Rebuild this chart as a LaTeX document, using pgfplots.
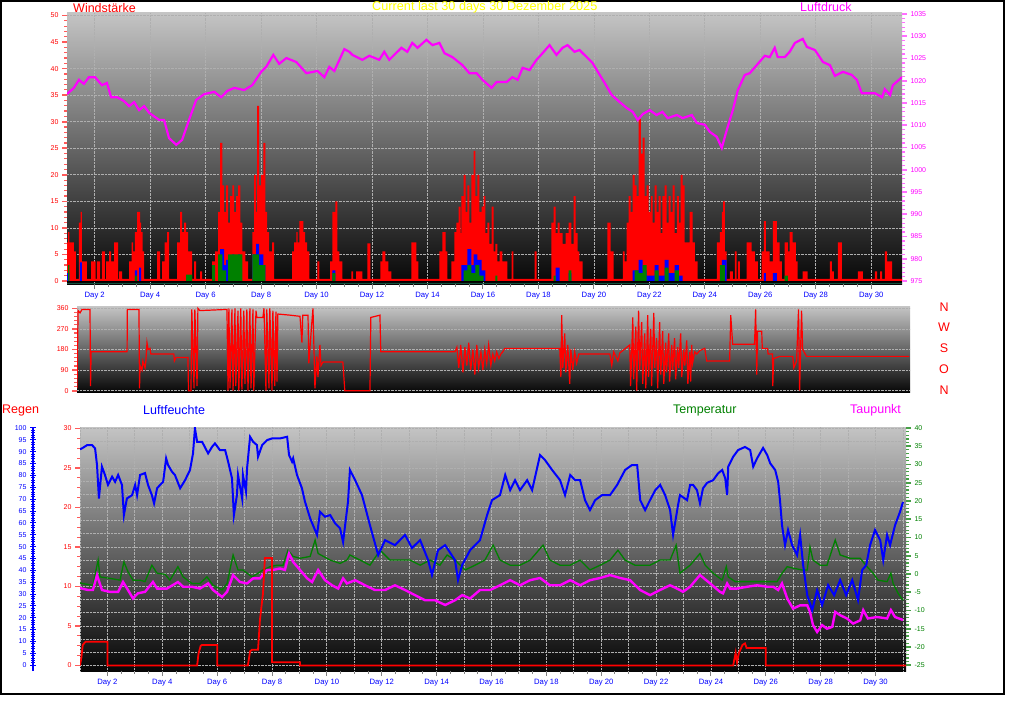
\documentclass[border=0pt]{standalone}
\usepackage{fontspec}
\setmainfont{Liberation Sans}
\usepackage{pgfplots}
\pgfplotsset{compat=1.18}
\definecolor{mag}{RGB}{255,0,255}
\definecolor{myred}{RGB}{255,0,0}
\definecolor{myblue}{RGB}{0,0,255}
\definecolor{mygreen}{RGB}{0,128,0}
\definecolor{myyellow}{RGB}{255,255,0}
\definecolor{bgtop}{RGB}{196,196,196}
\definecolor{bgmid}{RGB}{95,95,95}
\definecolor{bgbot}{RGB}{6,6,6}
\definecolor{gridc}{RGB}{175,175,175}
\definecolor{tickred}{RGB}{255,90,90}
\definecolor{tickmag}{RGB}{255,110,255}
\definecolor{tickgreen}{RGB}{70,160,70}
\definecolor{teal2}{RGB}{20,80,60}
\pgfplotsset{
 base/.style={scale only axis, xmin=1, xmax=31.11, anchor=south west,
   axis line style={draw=none},
   /pgf/number format/assume math mode=true, /pgf/number format/1000 sep={},
   tick label style={font=\fontsize{7}{8}\selectfont},
   tick align=outside, major tick length=5pt, minor tick length=3pt,
   major tick style={line width=1.6pt}, minor tick style={line width=1.2pt}},
 shadebg/.style={axis background/.style={top color=bgtop, middle color=bgmid, bottom color=bgbot}},
 grd/.style={grid style={densely dotted, line width=0.8pt, color=gridc}},
}
\begin{document}
\begin{tikzpicture}
\path[use as bounding box] (0pt,0pt) rectangle (1024pt,705pt);
\draw[line width=2pt] (1pt,703.5pt) rectangle (1004pt,11pt);

% ---------------- top panel: wind ----------------
\begin{axis}[base, shadebg, grd, at={(67pt,421pt)}, width=835pt, height=271pt,
  ymin=-0.56, ymax=50.47, ytick={0,5,...,50}, minor y tick num=4,
  xtick={2,4,...,30}, minor x tick num=3,
  xticklabels={Day 2,Day 4,Day 6,Day 8,Day 10,Day 12,Day 14,Day 16,Day 18,Day 20,Day 22,Day 24,Day 26,Day 28,Day 30},
  xmajorgrids, ymajorgrids, tick pos=left,
  yticklabel style={text=myred},
  xticklabel style={text=myblue, font=\fontsize{7.7}{9}\selectfont},
  y tick style={color=tickred}, x tick style={color=gray, line width=1pt}]
\addplot[const plot, fill=myred, draw=none] coordinates {(1.00,7.3)(1.04,9.2)(1.09,7.3)(1.25,5.6)(1.32,0.4)(1.43,11)(1.49,13)(1.54,3.7)(1.72,0.4)(1.87,3.7)(2.03,0.4)(2.08,3.7)(2.19,0.4)(2.26,5.6)(2.37,0.4)(2.41,3.7)(2.52,5.6)(2.59,3.7)(2.70,7.3)(2.84,0.4)(2.88,1.8)(2.99,0.4)(3.24,3.7)(3.33,7.3)(3.38,5.6)(3.45,9.2)(3.53,13)(3.64,11)(3.67,9.2)(3.73,5.6)(3.78,0.4)(4.25,5.6)(4.36,0.4)(4.43,3.7)(4.52,7.3)(4.61,9.2)(4.68,0.4)(4.97,7.3)(5.08,13)(5.15,9.2)(5.22,11)(5.30,9.2)(5.37,5.6)(5.51,0.4)(5.58,3.7)(5.66,0.4)(5.80,1.8)(5.87,0.4)(6.23,3.7)(6.34,5.6)(6.45,13)(6.52,26)(6.60,18)(6.67,13)(6.74,18)(6.81,11)(6.88,16)(6.96,18)(7.03,13)(7.10,16)(7.17,18)(7.25,11)(7.32,5.6)(7.43,3.7)(7.53,0.4)(7.68,9.2)(7.75,20)(7.82,13)(7.86,33)(7.93,18)(8.00,20)(8.08,26)(8.15,13)(8.22,9.2)(8.29,5.6)(8.40,7.3)(8.47,0.4)(9.12,5.6)(9.19,7.3)(9.27,9.2)(9.32,7.3)(9.38,11.3)(9.52,9.2)(9.59,7.3)(9.66,5.6)(9.74,0.4)(10.03,3.7)(10.10,0.4)(10.49,3.7)(10.57,13)(10.68,15)(10.75,5.6)(10.82,3.7)(10.93,0.4)(11.25,1.8)(11.32,0.4)(11.43,1.8)(11.65,0.4)(11.83,7.1)(11.94,0.4)(12.30,3.7)(12.37,5.6)(12.48,3.7)(12.59,1.8)(12.70,0.4)(13.42,7.3)(13.60,3.7)(13.67,0.4)(14.43,5.6)(14.54,9.2)(14.65,5.6)(14.72,0.4)(14.86,3.7)(14.97,9.2)(15.04,11)(15.12,14)(15.19,9)(15.22,16)(15.30,20)(15.37,13)(15.44,18)(15.51,11)(15.58,20)(15.66,24.5)(15.73,16)(15.80,20)(15.87,13)(15.95,14)(16.02,16)(16.09,9)(16.16,11)(16.23,7)(16.31,14)(16.38,5.6)(16.45,7)(16.52,3.7)(16.60,5.6)(16.70,3.7)(16.88,0.4)(17.03,5.6)(17.10,0.4)(17.86,5.6)(17.93,0.4)(18.47,11)(18.55,14)(18.62,9)(18.69,11)(18.76,9)(18.87,7)(18.98,9)(19.09,11)(19.19,7)(19.27,16)(19.34,9)(19.41,5.6)(19.48,3.7)(19.59,0.4)(20.49,11)(20.60,5.6)(20.71,0.4)(21.04,5.6)(21.11,3.7)(21.18,11)(21.25,16)(21.32,13)(21.40,20)(21.47,18)(21.54,16)(21.61,30.5)(21.69,24)(21.76,27)(21.83,16)(21.90,18)(21.97,13)(22.05,16)(22.12,11)(22.19,18)(22.26,13)(22.33,16)(22.41,9)(22.47,16)(22.55,18)(22.62,11)(22.69,16)(22.77,13)(22.84,18)(22.91,9)(22.99,16)(23.06,11)(23.13,20)(23.20,18)(23.27,7.3)(23.45,13)(23.56,7.3)(23.64,3.7)(23.74,0.4)(24.43,7.3)(24.54,9.2)(24.61,13)(24.66,15)(24.72,5.6)(24.79,0.4)(24.90,1.8)(25.01,0.4)(25.08,5.6)(25.15,0.4)(25.19,3.7)(25.26,0.4)(25.51,7.3)(25.69,5.6)(25.80,3.7)(25.91,0.4)(26.05,5.6)(26.13,11.3)(26.20,5.6)(26.34,3.7)(26.45,11.3)(26.60,7.3)(26.70,3.7)(26.78,0.4)(26.88,7.3)(26.99,5.6)(27.06,9.2)(27.17,7.3)(27.28,3.7)(27.35,0.4)(27.53,1.8)(27.71,0.4)(28.51,3.7)(28.58,1.8)(28.65,0.4)(28.80,7.3)(28.94,0.4)(29.52,1.8)(29.70,0.4)(30.13,1.8)(30.21,0.4)(30.32,1.8)(30.39,0.4)(30.49,5.6)(30.57,3.7)(30.75,0.4)(31.11,0.4)} \closedcycle;
\addplot[const plot, fill=myblue, draw=none] coordinates {(1.00,1.5)(1.09,0)(1.46,3.5)(1.54,0)(3.45,2)(3.53,0)(3.60,2.5)(3.67,0)(6.52,6)(6.67,3)(6.74,4)(6.81,0)(6.96,5)(7.03,0)(7.17,5)(7.25,0)(7.68,5)(7.82,7)(7.93,5)(8.08,3)(8.15,0)(10.57,2)(10.68,0)(15.22,3)(15.44,6)(15.58,3)(15.66,5)(15.80,4)(15.95,2)(16.09,0)(18.62,2.5)(18.76,0)(19.09,1.5)(19.19,0)(21.40,2)(21.61,4)(21.76,2)(21.90,1)(22.19,3)(22.33,1)(22.55,4)(22.69,1.5)(22.91,3)(23.06,1)(23.20,0)(24.61,4)(24.79,0)(26.13,1.5)(26.20,0)(26.45,1.5)(26.60,0)(31.11,0)} \closedcycle;
\addplot[const plot, fill=mygreen, draw=none] coordinates {(1.00,0)(1.04,3)(1.09,0)(3.45,1)(3.53,0)(5.30,1.2)(5.51,0)(6.23,3)(6.34,0)(6.45,5)(6.60,2)(6.74,0)(6.81,5)(7.32,0)(7.68,5)(7.93,3)(8.15,0)(10.57,1.5)(10.68,0)(15.30,2)(15.44,3)(15.58,1.5)(15.73,3)(15.87,1)(16.02,0)(16.45,1)(16.52,0)(18.55,1)(18.62,0)(19.09,2)(19.19,0)(21.47,2)(21.61,1.5)(21.76,3)(21.90,0)(22.19,2)(22.33,0)(22.55,2.5)(22.69,0)(22.91,2)(23.06,0)(24.54,3)(24.72,0)(26.88,1)(26.99,0)(31.11,0)} \closedcycle;
\addplot[black, line width=1pt] coordinates {(1,-0.15)(31.11,-0.15)};
\addplot[teal2, line width=1.5pt] coordinates {(1,-0.45)(31.11,-0.45)};
\end{axis}

% pressure
\begin{axis}[base, at={(67pt,421pt)}, width=835pt, height=271pt,
  ymin=974.33, ymax=1035.22, ytick={975,980,...,1035}, minor y tick num=4,
  xtick=\empty, ytick pos=right,
  yticklabel style={text=mag}, y tick style={color=tickmag}]
\addplot[mag, line width=2.2pt] coordinates {(1.00,1017.0)(1.25,1018.4)(1.43,1020.2)(1.61,1019.3)(1.79,1020.8)(2.01,1020.8)(2.26,1019.0)(2.44,1019.5)(2.59,1016.3)(2.81,1016.3)(3.06,1015.4)(3.24,1014.3)(3.42,1015.2)(3.60,1013.4)(3.78,1014.3)(3.96,1012.8)(4.32,1011.2)(4.50,1011.2)(4.68,1007.1)(4.94,1005.6)(5.15,1006.7)(5.40,1011.2)(5.66,1015.7)(5.95,1017.0)(6.31,1017.5)(6.56,1016.3)(6.78,1017.7)(7.03,1018.4)(7.39,1017.9)(7.68,1019.0)(8.00,1022.0)(8.18,1023.1)(8.44,1025.8)(8.65,1023.8)(8.91,1025.1)(9.27,1024.2)(9.63,1021.7)(10.03,1022.2)(10.28,1020.8)(10.46,1023.1)(10.64,1022.2)(11.00,1027.1)(11.18,1026.5)(11.29,1025.8)(11.65,1024.7)(11.90,1025.6)(12.26,1024.7)(12.44,1026.5)(12.62,1024.7)(13.06,1027.4)(13.27,1026.5)(13.45,1028.5)(13.64,1027.4)(13.96,1029.2)(14.18,1028.0)(14.43,1028.5)(14.61,1026.2)(14.90,1025.3)(15.26,1023.5)(15.51,1021.7)(15.77,1021.7)(15.98,1020.2)(16.31,1018.4)(16.49,1019.7)(16.85,1019.7)(17.06,1020.8)(17.25,1020.2)(17.43,1022.9)(17.68,1022.4)(17.93,1024.7)(18.15,1026.2)(18.40,1028.0)(18.65,1025.8)(18.87,1027.4)(19.05,1028.0)(19.30,1026.5)(19.48,1026.9)(19.66,1025.8)(19.95,1024.0)(20.21,1021.3)(20.39,1019.5)(20.64,1016.8)(20.93,1015.2)(21.18,1013.9)(21.40,1013.0)(21.58,1011.2)(21.76,1012.5)(22.01,1013.4)(22.26,1012.3)(22.47,1013.0)(22.66,1011.6)(22.99,1012.3)(23.20,1011.6)(23.53,1012.3)(23.71,1010.5)(24.00,1010.1)(24.18,1008.5)(24.43,1007.4)(24.61,1004.9)(24.79,1008.9)(25.01,1013.4)(25.19,1017.9)(25.44,1021.3)(25.62,1021.7)(25.87,1023.5)(26.16,1025.6)(26.34,1025.3)(26.52,1027.4)(26.63,1025.3)(26.88,1025.3)(27.06,1026.5)(27.25,1028.5)(27.53,1029.4)(27.68,1027.6)(27.97,1026.9)(28.26,1024.2)(28.51,1023.5)(28.69,1021.1)(28.98,1022.0)(29.30,1021.3)(29.48,1020.2)(29.66,1017.2)(29.95,1017.2)(30.13,1017.2)(30.39,1016.3)(30.49,1018.1)(30.68,1016.8)(30.78,1019.0)(31.11,1020.8)};
\end{axis}

% ---------------- middle panel: wind direction ----------------
\begin{axis}[base, shadebg, grd, at={(77pt,312.3pt)}, width=833pt, height=86pt,
  ymin=-8.7, ymax=367, ytick={0,90,...,360}, minor y tick num=4,
  xtick=\empty, ymajorgrids, tick pos=left,
  yticklabel style={text=myred}, y tick style={color=tickred}]
\addplot[myred, line width=1.2pt] coordinates {(1.00,10)(1.04,350)(1.11,340)(1.18,355)(1.47,355)(1.49,20)(1.51,170)(2.81,170)(2.82,355)(3.24,355)(3.26,10)(3.28,110)(3.35,90)(3.38,130)(3.46,100)(3.49,130)(3.53,210)(3.57,180)(3.64,185)(3.67,160)(4.50,160)(4.52,130)(4.58,145)(5.01,145)(5.03,0)(5.12,0)(5.15,355)(5.23,10)(5.26,355)(5.34,20)(5.37,360)(5.44,350)(6.42,355)(6.46,0)(6.49,360)(6.53,10)(6.60,355)(6.64,0)(6.71,360)(6.74,20)(6.82,350)(6.85,0)(6.92,360)(6.96,5)(7.03,350)(7.07,30)(7.14,355)(7.18,0)(7.25,360)(7.29,10)(7.36,355)(7.39,0)(7.47,350)(7.50,320)(7.72,320)(7.76,360)(7.83,0)(7.86,355)(7.94,10)(7.97,360)(8.05,0)(8.08,350)(8.15,20)(8.19,345)(8.23,40)(8.26,335)(8.70,330)(9.06,325)(9.13,210)(9.16,330)(9.35,330)(9.38,120)(9.49,300)(9.53,360)(9.60,10)(9.67,150)(9.71,60)(9.78,200)(9.82,110)(9.89,125)(10.61,125)(10.68,0)(11.59,0)(11.62,320)(11.95,330)(11.98,170)(14.66,170)(14.73,190)(14.80,100)(14.87,200)(14.95,80)(15.02,190)(15.09,110)(15.16,210)(15.23,90)(15.31,180)(15.38,70)(15.45,200)(15.52,100)(15.60,170)(15.67,90)(15.74,180)(15.81,120)(15.88,200)(15.96,110)(16.03,160)(16.10,130)(16.17,170)(16.25,140)(16.32,160)(16.39,170)(16.46,185)(18.45,185)(18.49,60)(18.52,330)(18.56,100)(18.63,250)(18.67,80)(18.74,200)(18.81,30)(18.85,180)(18.92,90)(18.99,170)(19.06,120)(19.14,160)(20.26,160)(20.33,110)(20.40,170)(20.55,130)(20.62,165)(20.98,200)(21.01,20)(21.09,320)(21.12,50)(21.20,280)(21.23,0)(21.30,350)(21.34,90)(21.41,300)(21.45,30)(21.52,250)(21.56,10)(21.63,330)(21.66,60)(21.74,270)(21.77,20)(21.85,340)(21.88,100)(21.95,230)(21.99,10)(22.06,300)(22.10,70)(22.17,260)(22.21,30)(22.28,210)(22.31,80)(22.39,250)(22.42,40)(22.50,200)(22.53,90)(22.60,230)(22.64,50)(22.71,190)(22.75,100)(22.82,250)(22.86,60)(22.93,180)(22.97,110)(23.04,220)(23.08,30)(23.15,170)(23.18,40)(23.22,200)(23.25,120)(23.33,170)(23.40,160)(23.51,175)(23.69,185)(23.76,130)(24.59,130)(24.63,330)(24.70,203)(25.49,203)(25.53,355)(25.57,70)(25.60,260)(25.75,260)(25.77,185)(25.96,185)(25.98,160)(26.14,160)(26.15,20)(26.18,140)(26.40,150)(26.87,150)(26.91,100)(27.01,130)(27.08,355)(27.12,0)(27.19,350)(27.23,180)(27.37,150)(31.09,150)};
\addplot[black, line width=1.5pt] coordinates {(1,-8)(31.11,-8)};
\end{axis}

% ---------------- bottom panel ----------------
\begin{axis}[base, shadebg, grd, at={(80pt,34pt)}, width=826pt, height=244pt,
  ymin=-0.70, ymax=30.19, ytick={0,5,...,30}, minor y tick num=3,
  extra y ticks={1.667,3.333,6.667,8.333,11.667,13.333,16.667,18.333,21.667,23.333,26.667,28.333},
  extra y tick labels={}, extra y tick style={major tick length=0pt},
  xtick={2,4,...,30}, minor x tick num=3,
  extra x ticks={1,3,5,7,9,11,13,15,17,19,21,23,25,27,29,31},
  extra x tick labels={}, extra x tick style={major tick length=0pt},
  xticklabels={Day 2,Day 4,Day 6,Day 8,Day 10,Day 12,Day 14,Day 16,Day 18,Day 20,Day 22,Day 24,Day 26,Day 28,Day 30},
  xmajorgrids, ymajorgrids, tick pos=left,
  yticklabel style={text=myred},
  xticklabel style={text=myblue, font=\fontsize{7.7}{9}\selectfont},
  y tick style={color=tickred}, x tick style={color=gray, line width=1pt}]
\end{axis}

% temperature + dew point
\begin{axis}[base, at={(80pt,34pt)}, width=826pt, height=244pt,
  ymin=-26.59, ymax=40.27, ytick={-25,-20,...,40}, minor y tick num=4,
  xtick=\empty, ytick pos=right,
  yticklabel style={text=mygreen}, y tick style={color=tickgreen}]
\addplot[mygreen, line width=1.3pt] coordinates {(1.00,-2.4)(1.07,-2.6)(1.47,-3.1)(1.66,3.8)(1.73,-0.8)(2.09,-1.2)(2.46,-1.7)(2.60,3.3)(2.75,0.6)(2.93,-1.7)(3.19,-1.7)(3.37,-2.1)(3.62,2.4)(3.81,0.2)(4.10,-0.1)(4.28,-1.7)(4.57,2.0)(4.76,-0.8)(5.08,-2.6)(5.37,-2.6)(5.63,-0.8)(5.85,-3.1)(6.18,-4.4)(6.36,-2.6)(6.58,5.2)(6.76,1.1)(6.94,1.1)(7.27,-0.8)(7.49,0.2)(7.67,1.1)(7.93,2.0)(8.18,2.4)(8.40,2.4)(8.58,6.5)(8.77,4.8)(9.02,4.3)(9.39,4.8)(9.57,9.3)(9.68,5.6)(10.12,3.8)(10.48,2.9)(10.73,3.8)(10.84,5.2)(11.21,3.8)(11.57,2.4)(11.94,6.5)(12.30,3.8)(12.67,3.8)(13.03,3.8)(13.40,2.4)(13.76,3.8)(14.12,2.4)(14.38,5.2)(14.67,3.8)(15.04,1.1)(15.40,2.4)(15.76,3.8)(16.06,7.9)(16.31,3.8)(16.68,2.4)(17.04,2.4)(17.41,3.8)(17.88,7.9)(18.13,3.8)(18.50,2.4)(18.87,2.4)(19.23,3.8)(19.59,1.1)(19.96,2.4)(20.32,3.8)(20.61,6.5)(20.87,3.8)(21.23,2.4)(21.78,2.4)(22.14,3.8)(22.51,3.8)(22.73,7.9)(22.87,0.2)(23.24,2.4)(23.60,5.6)(23.79,2.4)(24.08,0.2)(24.41,-1.7)(24.56,2.0)(24.63,-0.8)(24.88,-2.1)(25.32,-2.1)(25.68,-2.1)(26.05,-2.1)(26.41,-2.1)(26.59,0.2)(26.78,2.0)(26.99,1.6)(27.32,1.1)(27.51,1.1)(27.61,7.4)(27.72,3.8)(27.98,2.4)(28.23,2.4)(28.53,9.3)(28.71,5.2)(29.07,4.3)(29.44,4.3)(29.69,2.0)(29.91,0.2)(30.09,-1.7)(30.42,-2.1)(30.56,0.2)(30.64,-2.6)(30.82,-5.3)(31.00,-7.2)};
\addplot[mag, line width=2.4pt] coordinates {(1.00,-3.8)(1.07,-4.0)(1.29,-4.4)(1.47,-4.4)(1.62,-0.3)(1.80,-4.4)(2.09,-4.9)(2.39,-4.9)(2.57,-2.2)(2.75,-4.4)(2.93,-6.7)(3.11,-5.3)(3.37,-4.9)(3.66,-2.2)(3.81,-4.0)(4.17,-4.0)(4.57,-2.2)(4.76,-3.5)(5.08,-3.5)(5.37,-4.0)(5.67,-2.6)(5.85,-4.4)(6.18,-6.3)(6.36,-4.9)(6.58,-0.3)(6.83,-2.2)(7.09,-2.6)(7.31,-1.2)(7.56,-1.2)(7.82,1.1)(8.04,1.1)(8.29,1.5)(8.47,1.1)(8.62,5.6)(8.77,3.3)(9.02,1.1)(9.28,-1.2)(9.46,-2.2)(9.68,1.1)(9.93,-1.7)(10.19,-3.1)(10.41,-4.0)(10.59,-1.2)(10.73,-2.6)(11.03,-1.7)(11.39,-3.1)(11.75,-4.4)(12.12,-4.4)(12.48,-3.1)(12.85,-4.4)(13.21,-5.8)(13.58,-7.2)(13.94,-7.2)(14.31,-8.5)(14.67,-7.2)(14.93,-5.8)(15.22,-6.7)(15.58,-4.4)(15.95,-4.4)(16.31,-3.1)(16.68,-1.7)(17.04,-3.1)(17.41,-1.7)(17.77,-1.1)(18.13,-3.1)(18.50,-3.1)(18.87,-1.7)(19.23,-3.1)(19.59,-1.7)(19.96,-1.1)(20.32,-0.3)(20.69,-1.1)(21.05,-1.7)(21.42,-4.4)(21.78,-5.8)(22.14,-4.4)(22.51,-3.1)(22.87,-4.4)(22.98,-4.9)(23.24,-3.5)(23.60,-0.3)(23.97,-2.6)(24.33,-4.9)(24.44,-5.3)(24.59,-2.6)(24.70,-4.0)(24.95,-4.0)(25.32,-3.5)(25.68,-3.1)(26.05,-3.5)(26.27,-3.5)(26.45,-4.4)(26.59,-2.6)(26.78,-6.7)(26.99,-9.5)(27.25,-8.6)(27.51,-8.6)(27.61,-10.4)(27.72,-14.0)(27.87,-15.9)(28.05,-14.0)(28.23,-15.0)(28.42,-14.5)(28.53,-10.4)(28.71,-11.3)(28.96,-12.2)(29.18,-13.6)(29.44,-12.7)(29.55,-9.9)(29.72,-12.2)(30.06,-11.8)(30.42,-12.2)(30.56,-9.9)(30.71,-11.8)(31.00,-12.6)};
\end{axis}

% humidity
\begin{axis}[base, at={(80pt,34pt)}, width=826pt, height=244pt,
  ymin=-2.45, ymax=100.42, xtick=\empty, ytick=\empty]
\addplot[myblue, line width=2pt] coordinates {(1.00,91.0)(1.07,91.4)(1.26,92.8)(1.44,92.8)(1.55,91.4)(1.62,84.4)(1.69,70.3)(1.80,83.7)(1.91,80.2)(2.02,76)(2.17,79.5)(2.28,77.3)(2.39,80.2)(2.53,76)(2.60,63.3)(2.71,70.3)(2.90,71.7)(3.01,76)(3.08,71.7)(3.19,80.2)(3.37,81)(3.48,76)(3.62,71.7)(3.70,68.2)(3.81,74.6)(3.92,76)(4.03,77.3)(4.14,87.2)(4.21,84.4)(4.35,81.6)(4.46,80.2)(4.65,74.6)(4.83,78)(5.01,82.3)(5.12,89.3)(5.19,99.9)(5.27,94.2)(5.45,94.2)(5.67,89.3)(5.81,92)(5.92,93.5)(6.10,90.7)(6.29,90.7)(6.40,85.8)(6.54,78.8)(6.61,63.3)(6.72,71.7)(6.76,80.2)(6.91,70.3)(6.94,80.2)(7.05,73.2)(7.09,83)(7.20,96.3)(7.31,94.2)(7.45,92.8)(7.49,87.9)(7.64,92.8)(7.82,94.9)(8.00,95.6)(8.29,95.6)(8.55,96.3)(8.62,88.6)(8.73,85.8)(8.77,87.2)(8.91,80.2)(9.09,74.6)(9.20,69)(9.39,61.9)(9.64,54.9)(9.75,64.7)(9.93,62.6)(10.12,63.3)(10.30,59.8)(10.48,57.7)(10.59,51.9)(10.77,69)(10.84,82.3)(11.03,78)(11.28,71.7)(11.57,59)(11.87,46.4)(12.12,52.7)(12.48,50.6)(12.85,54.9)(13.10,49.4)(13.40,52.7)(13.69,44.3)(13.83,38)(14.05,48.5)(14.31,50.6)(14.67,44.3)(14.78,35.9)(14.93,42.2)(15.22,48.5)(15.58,52.7)(15.84,63.3)(16.02,69.6)(16.31,71.7)(16.50,80.2)(16.68,73.8)(16.86,78)(17.04,73.8)(17.30,78)(17.48,73.8)(17.77,88.6)(17.95,86.5)(18.21,82.3)(18.50,78)(18.68,71.7)(18.87,80.2)(19.05,78)(19.23,78)(19.41,69.6)(19.59,65.4)(19.78,69.6)(20.03,71.7)(20.32,71.7)(20.58,76)(20.87,82.3)(21.12,84.4)(21.31,84.4)(21.42,69.6)(21.60,65.4)(21.78,69.6)(21.97,73.8)(22.15,76)(22.33,71.7)(22.51,65.4)(22.62,54.9)(22.80,67.5)(22.87,71.7)(23.13,69.6)(23.24,76)(23.35,76)(23.49,73.8)(23.60,68.2)(23.71,74.6)(23.86,76.9)(24.08,78)(24.26,80.9)(24.41,82.3)(24.52,78.8)(24.59,71.7)(24.63,83.7)(24.81,87.9)(24.99,90.7)(25.24,92)(25.43,90.7)(25.54,83.7)(25.68,87.2)(25.90,91.6)(26.05,88.6)(26.16,85.1)(26.34,82.3)(26.45,77.3)(26.52,69)(26.59,59)(26.70,50.6)(26.81,57)(26.96,50.6)(27.14,46.4)(27.25,54.9)(27.36,42.2)(27.51,29.5)(27.69,23.2)(27.87,31.6)(28.05,25.3)(28.27,33.8)(28.49,29.5)(28.71,35.9)(28.93,29.5)(29.15,35.9)(29.36,27.4)(29.51,40.1)(29.66,42.2)(29.80,50.6)(29.98,57)(30.17,52.7)(30.28,44.3)(30.42,54.9)(30.53,50.6)(30.71,59)(30.89,64.6)(31.00,68.8)};
\end{axis}

% rain
\begin{axis}[base, at={(80pt,34pt)}, width=826pt, height=244pt,
  ymin=-0.70, ymax=30.19, xtick=\empty, ytick=\empty]
\addplot[myred, line width=1.8pt] coordinates {(1.00,0)(1.05,1.0)(1.10,2.6)(1.20,3.0)(2.00,3.0)(2.00,0)(5.27,0)(5.32,1.5)(5.40,2.5)(5.45,2.6)(6.00,2.6)(6.00,0)(7.12,0)(7.20,1.8)(7.27,2.0)(7.49,2.0)(7.56,5.8)(7.67,9.1)(7.74,13.6)(8.00,13.6)(8.00,0.4)(9.02,0.4)(9.02,0)(24.81,0)(24.90,1.6)(24.95,0.4)(25.02,1.6)(25.15,2.6)(25.24,2.8)(25.30,2.2)(26.00,2.2)(26.00,0)(31.11,0)};
\end{axis}

% humidity scale
\begin{axis}[scale only axis, anchor=south west, at={(33pt,34pt)}, width=1pt, height=244pt,
  xmin=0, xmax=1, ymin=-2.45, ymax=100.42, axis x line=none, axis y line*=left,
  y axis line style={-, myblue, line width=2.5pt},
  ytick={0,5,...,100}, minor y tick num=4, tick align=center,
  major tick length=6pt, minor tick length=4pt,
  major tick style={myblue, line width=1pt}, minor tick style={myblue, line width=0.8pt},
  /pgf/number format/assume math mode=true,
  yticklabel style={text=myblue, font=\fontsize{7}{8}\selectfont}]
\end{axis}

% texts
\begin{scope}[every node/.style={inner sep=0pt, font=\fontsize{12.5}{14}\selectfont}]
\node[anchor=west, text=myred] at (73pt,697pt) {Windstärke};
\node[anchor=west, text=myyellow, font=\fontsize{12.7}{14}\selectfont] at (372pt,698pt) {Current last 30 days 30 Dezember 2025};
\node[anchor=west, text=mag] at (800pt,698pt) {Luftdruck};
\node[anchor=west, text=myred] at (2pt,295pt) {Regen};
\node[anchor=west, text=myblue] at (143pt,295pt) {Luftfeuchte};
\node[anchor=west, text=mygreen] at (673pt,295pt) {Temperatur};
\node[anchor=west, text=mag] at (850pt,295pt) {Taupunkt};
\node[text=myred] at (944pt,398pt) {N};
\node[text=myred] at (944pt,378pt) {W};
\node[text=myred] at (944pt,357pt) {S};
\node[text=myred] at (944pt,336pt) {O};
\node[text=myred] at (944pt,315pt) {N};
\end{scope}
\end{tikzpicture}
\end{document}
